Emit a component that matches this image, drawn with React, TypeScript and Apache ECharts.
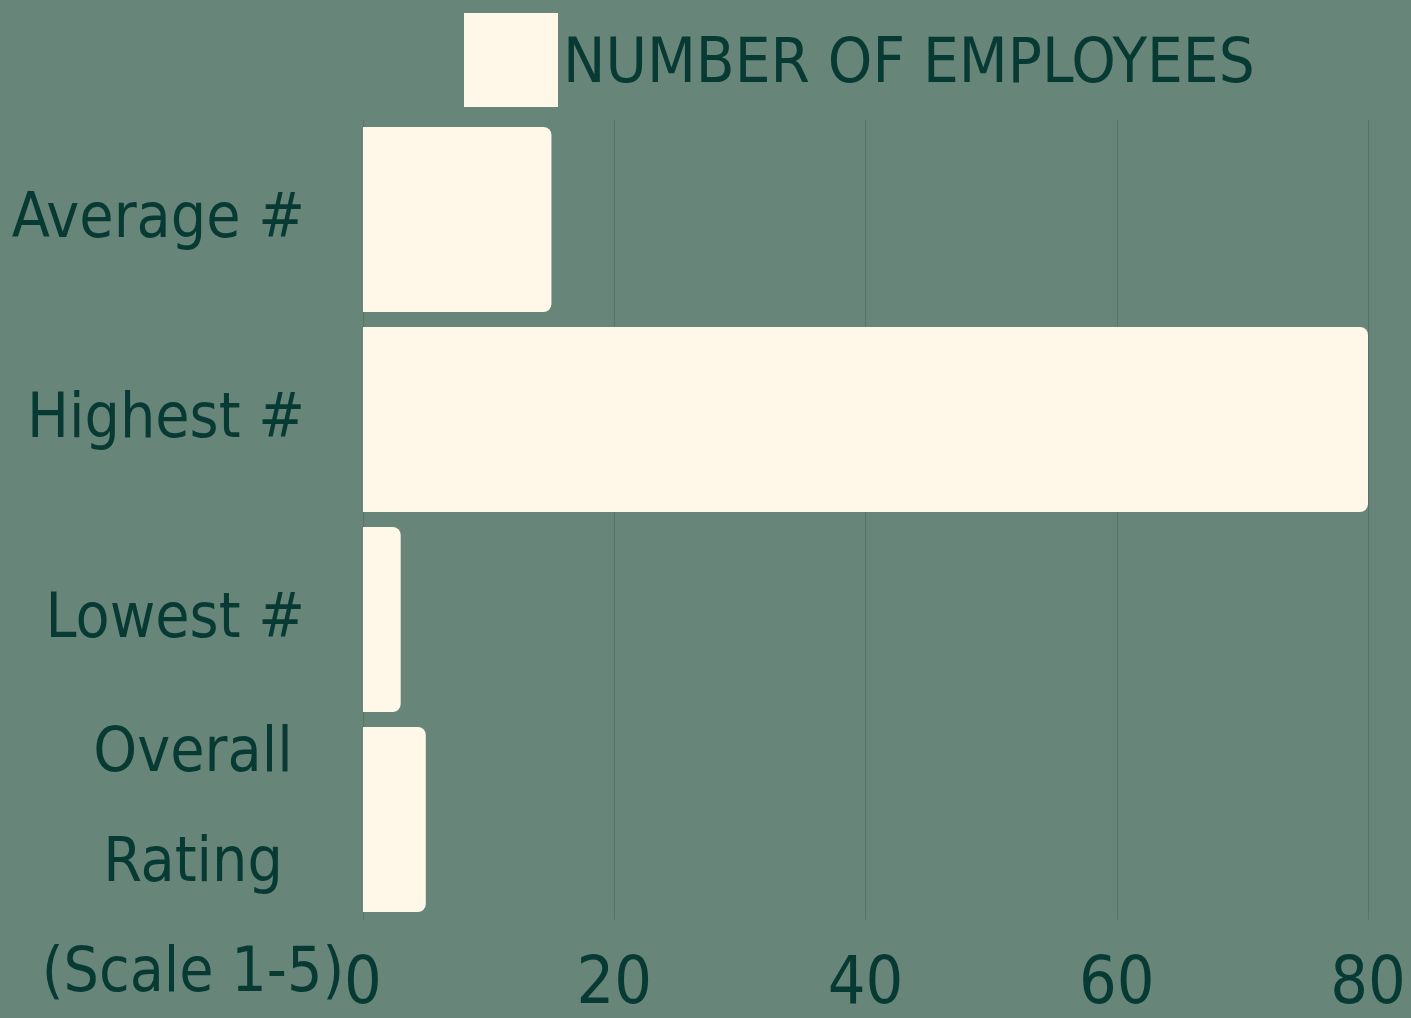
import React, { useEffect, useRef } from "react";
import * as echarts from "echarts";

const categories = ["Average #", "Highest #", "Lowest #", "Overall Rating (Scale 1-5)"];
const employees = [15, 80, 3, 5];
const xTicks = [0, 20, 40, 60, 80];
const seriesName = "NUMBER OF EMPLOYEES";

const BG = "#68857a";
const CREAM = "#fff8e9";
const INK = "#073a32";
const FONT = "'DejaVu Sans Condensed', 'Liberation Sans Narrow', sans-serif";

export default function App() {
  const ref = useRef<HTMLDivElement>(null);
  useEffect(() => {
    if (!ref.current) return;
    const chart = echarts.init(ref.current, null, { renderer: "svg" });
    chart.setOption({
      animation: false,
      backgroundColor: BG,
      textStyle: { fontFamily: FONT },
      legend: {
        top: 8,
        left: 459,
        itemWidth: 94,
        itemHeight: 94,
        itemGap: 10,
        icon: "rect",
        textStyle: { color: INK, fontSize: 63, fontFamily: FONT },
        data: [seriesName],
      },
      grid: {
        left: 363,
        right: 43,
        top: 119.5,
        bottom: 98.5,
        containLabel: false,
        outerBoundsMode: "none",
      },
      xAxis: {
        type: "value",
        min: xTicks[0],
        max: xTicks[xTicks.length - 1],
        interval: 20,
        axisLine: { show: false },
        axisTick: { show: false },
        splitLine: { show: true, lineStyle: { color: "#587468", width: 1 } },
        axisLabel: {
          color: INK,
          fontSize: 66,
          lineHeight: 66,
          fontFamily: FONT,
          margin: 28,
          hideOverlap: false,
        },
      },
      yAxis: {
        type: "category",
        inverse: true,
        data: categories,
        axisLine: { show: false },
        axisTick: { show: false },
        axisLabel: {
          interval: 0,
          hideOverlap: false,
          margin: 15,
          color: INK,
          fontSize: 62,
          fontFamily: FONT,
          formatter: (v: string) => {
            if (v.startsWith("Overall")) {
              return "{sp| }\n{o|Overall}\n{o|Rating}\n{o|(Scale 1-5)}";
            }
            return "{s|" + v + "}";
          },
          rich: {
            s: { fontSize: 62, color: INK, fontFamily: FONT, padding: [0, 43, 8, 0] },
            o: { fontSize: 62, color: INK, fontFamily: FONT, width: 310, align: "center", lineHeight: 110 },
            sp: { fontSize: 10, lineHeight: 80 },
          },
        },
      },
      series: [
        {
          name: seriesName,
          type: "bar",
          data: employees,
          barWidth: 185,
          itemStyle: { color: CREAM, borderRadius: [0, 8, 8, 0] },
        },
      ],
    });
    return () => chart.dispose();
  }, []);
  return <div ref={ref} style={{ width: 1411, height: 1018, position: "absolute", left: 0, top: 0 }} />;
}
